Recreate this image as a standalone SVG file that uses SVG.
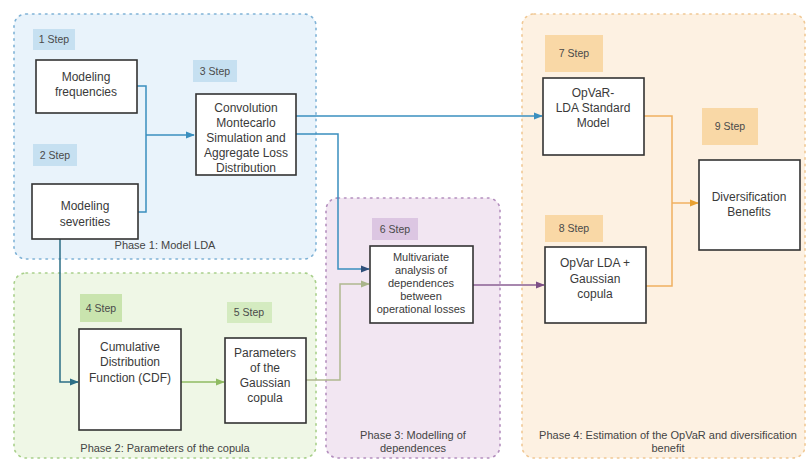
<svg xmlns="http://www.w3.org/2000/svg" width="808" height="461" viewBox="0 0 808 461">
<style>
text{font-family:"Liberation Sans",Arial,sans-serif;fill:#3a3a3a;text-anchor:middle}
.t{font-size:12px}
.m{font-size:11px}
.s{font-size:10.5px;fill:#4a4a4a}
.p{font-size:11px;fill:#444}
.box{fill:#fff;stroke:#333;stroke-width:1.6}
.ph{stroke-width:1.6;stroke-dasharray:1.5 5;stroke-linecap:round}
.c{fill:none;stroke-width:1.5}
</style>
<defs>
<marker id="aB" viewBox="0 0 10 10" refX="9" refY="5" markerWidth="6" markerHeight="6" orient="auto"><path d="M0,1 L10,5 L0,9 z" fill="#3a8fbf"/></marker>
<marker id="aT" viewBox="0 0 10 10" refX="9" refY="5" markerWidth="6" markerHeight="6" orient="auto"><path d="M0,1 L10,5 L0,9 z" fill="#2c6f86"/></marker>
<marker id="aG" viewBox="0 0 10 10" refX="9" refY="5" markerWidth="6" markerHeight="6" orient="auto"><path d="M0,1 L10,5 L0,9 z" fill="#8fbb62"/></marker>
<marker id="aK" viewBox="0 0 10 10" refX="9" refY="5" markerWidth="6" markerHeight="6" orient="auto"><path d="M0,1 L10,5 L0,9 z" fill="#a9b48a"/></marker>
<marker id="aD" viewBox="0 0 10 10" refX="9" refY="5" markerWidth="6" markerHeight="6" orient="auto"><path d="M0,1 L10,5 L0,9 z" fill="#2f4f7a"/></marker>
<marker id="aP" viewBox="0 0 10 10" refX="9" refY="5" markerWidth="6" markerHeight="6" orient="auto"><path d="M0,1 L10,5 L0,9 z" fill="#7d4f86"/></marker>
<marker id="aO" viewBox="0 0 10 10" refX="9" refY="5" markerWidth="6" markerHeight="6" orient="auto"><path d="M0,1 L10,5 L0,9 z" fill="#e8a030"/></marker>
</defs>
<rect width="808" height="461" fill="#fff"/>

<g id="phase1">
<rect x="14" y="14" width="302" height="245" rx="12" fill="#e9f3fb" class="ph" stroke="#7fb2d6"/>
<text class="p" x="165" y="249">Phase 1: Model LDA</text>
</g>
<g id="phase2">
<rect x="14" y="273" width="302" height="185" rx="12" fill="#eff7e6" class="ph" stroke="#a8cf8a"/>
<text class="p" x="165" y="452">Phase 2: Parameters of the copula</text>
</g>
<g id="phase3">
<rect x="326" y="198" width="174" height="260" rx="12" fill="#f2e6f2" class="ph" stroke="#b48fbe"/>
<text class="p" x="413" y="439">Phase 3: Modelling of</text>
<text class="p" x="413" y="452">dependences</text>
</g>
<g id="phase4">
<rect x="522" y="14" width="283" height="444" rx="12" fill="#fdf1e2" class="ph" stroke="#f0c894"/>
<text class="p" x="668" y="439">Phase 4: Estimation of the OpVaR and diversification</text>
<text class="p" x="668" y="452">benefit</text>
</g>

<g id="connectors">
<path class="c" stroke="#3a8fbf" d="M137,86 H146 V212 H138"/>
<path class="c" stroke="#3a8fbf" d="M146,135 H194" marker-end="url(#aB)"/>
<path class="c" stroke="#3a8fbf" d="M296,116 H542" marker-end="url(#aB)"/>
<path class="c" stroke="#3a8fbf" d="M296,134 H338 V269 H369" marker-end="url(#aD)"/>
<path class="c" stroke="#2c6f86" d="M60,239 V382 H78" marker-end="url(#aT)"/>
<path class="c" stroke="#8fbb62" d="M181,382 H224" marker-end="url(#aG)"/>
<path class="c" stroke="#b0b890" d="M306,380 H340 V284 H369" marker-end="url(#aK)"/>
<path class="c" stroke="#8a5f93" d="M473,285 H544" marker-end="url(#aP)"/>
<path class="c" stroke="#f0b060" d="M644,116 H672 V286 H646"/>
<path class="c" stroke="#f0b060" d="M672,203 H698" marker-end="url(#aO)"/>
</g>

<g id="step1"><rect x="33" y="29" width="42" height="21" fill="#c6e0f1"/><text class="s" x="54" y="43">1 Step</text></g>
<g id="step2"><rect x="33" y="144" width="44" height="22" fill="#c6e0f1"/><text class="s" x="55" y="159">2 Step</text></g>
<g id="step3"><rect x="193" y="60" width="44" height="22" fill="#c6e0f1"/><text class="s" x="215" y="75">3 Step</text></g>
<g id="step4"><rect x="80" y="294" width="42" height="28" fill="#c9e4ae"/><text class="s" x="101" y="312">4 Step</text></g>
<g id="step5"><rect x="227" y="302" width="45" height="21" fill="#d4ebc0"/><text class="s" x="249" y="316">5 Step</text></g>
<g id="step6"><rect x="372" y="218" width="46" height="22" fill="#dcc6e2"/><text class="s" x="395" y="233">6 Step</text></g>
<g id="step7"><rect x="545" y="35" width="58" height="37" fill="#f9d8a6"/><text class="s" x="574" y="57">7 Step</text></g>
<g id="step8"><rect x="545" y="215" width="58" height="27" fill="#f9d8a6"/><text class="s" x="574" y="232">8 Step</text></g>
<g id="step9"><rect x="702" y="108" width="56" height="37" fill="#f9d8a6"/><text class="s" x="730" y="130">9 Step</text></g>

<g id="frequencies"><rect class="box" x="36" y="60" width="101" height="53"/><text class="t" x="86" y="81">Modeling</text><text class="t" x="86" y="96">frequencies</text></g>
<g id="severities"><rect class="box" x="32" y="184" width="106" height="55"/><text class="t" x="85" y="210">Modeling</text><text class="t" x="85" y="226">severities</text></g>
<g id="convolution"><rect class="box" x="196" y="94" width="100" height="81"/>
<text class="t" x="246" y="112">Convolution</text><text class="t" x="246" y="127">Montecarlo</text><text class="t" x="246" y="142">Simulation and</text><text class="t" x="246" y="157">Aggregate Loss</text><text class="t" x="246" y="172">Distribution</text></g>
<g id="cdf"><rect class="box" x="79" y="329" width="102" height="101"/><text class="t" x="130" y="351">Cumulative</text><text class="t" x="130" y="366">Distribution</text><text class="t" x="130" y="382">Function (CDF)</text></g>
<g id="params"><rect class="box" x="225" y="338" width="81" height="85"/><text class="t" x="265" y="357">Parameters</text><text class="t" x="265" y="372">of the</text><text class="t" x="265" y="387">Gaussian</text><text class="t" x="265" y="402">copula</text></g>
<g id="multivariate"><rect class="box" x="370" y="246" width="103" height="77"/>
<text class="m" x="421" y="261">Multivariate</text><text class="m" x="421" y="274">analysis of</text><text class="m" x="421" y="287">dependences</text><text class="m" x="421" y="300">between</text><text class="m" x="421" y="313">operational losses</text></g>
<g id="opvar-standard"><rect class="box" x="543" y="78" width="101" height="77"/><text class="t" x="593" y="97">OpVaR-</text><text class="t" x="593" y="112">LDA Standard</text><text class="t" x="593" y="127">Model</text></g>
<g id="opvar-gaussian"><rect class="box" x="545" y="247" width="101" height="76"/><text class="t" x="595" y="267">OpVar LDA +</text><text class="t" x="595" y="283">Gaussian</text><text class="t" x="595" y="298">copula</text></g>
<g id="diversification"><rect class="box" x="699" y="160" width="101" height="90"/><text class="t" x="749" y="201">Diversification</text><text class="t" x="749" y="216">Benefits</text></g>
</svg>
